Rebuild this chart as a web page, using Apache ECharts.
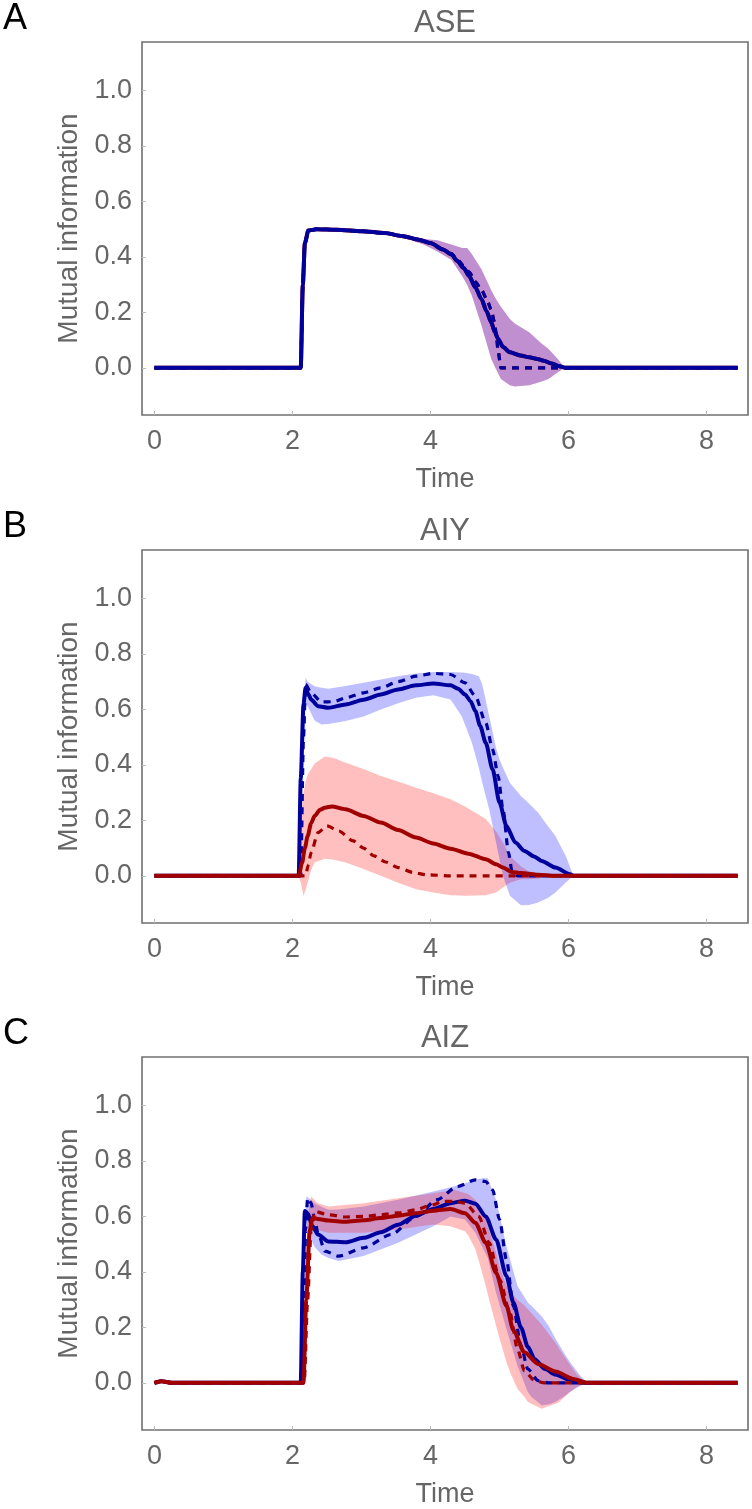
<!DOCTYPE html>
<html>
<head>
<meta charset="utf-8">
<script src="https://cdn.jsdelivr.net/npm/echarts@6/dist/echarts.min.js"></script>
<style>
  html, body { margin: 0; padding: 0; background: #fff; }
  #main { width: 752px; height: 1509px; }
</style>
</head>
<body>
<div id="main"></div>
<script>
// panel titles and axis ticks
var panelNames = ['ASE', 'AIY', 'AIZ'];
var panelLetters = ['A', 'B', 'C'];
var xTicks = [0, 2, 4, 6, 8];
var yTicks = [0, 0.2, 0.4, 0.6, 0.8, 1.0];

// ---- panel A (ASE) ----
var aseBlueSolid = [[0, 0], [2.12, 0], [2.15, 0.3], [2.18, 0.45], [2.23, 0.495], [2.35, 0.5], [2.64, 0.498], [3.0, 0.493], [3.34, 0.486], [3.6, 0.475], [3.83, 0.462], [4.0, 0.45], [4.18, 0.427], [4.3, 0.41], [4.39, 0.385], [4.48, 0.36], [4.56, 0.331], [4.65, 0.29], [4.74, 0.247], [4.81, 0.205], [4.88, 0.164], [4.93, 0.13], [4.98, 0.104], [5.05, 0.075], [5.15, 0.056], [5.3, 0.045], [5.43, 0.038], [5.55, 0.032], [5.64, 0.026], [5.75, 0.016], [5.85, 0.007], [5.96, 0], [8.45, 0]];
var aseBlueDashed = [[0, 0], [2.12, 0], [2.15, 0.3], [2.18, 0.45], [2.23, 0.495], [2.35, 0.5], [2.64, 0.498], [3.0, 0.493], [3.34, 0.486], [3.6, 0.475], [3.83, 0.462], [4.0, 0.45], [4.18, 0.427], [4.3, 0.412], [4.39, 0.39], [4.48, 0.368], [4.56, 0.345], [4.65, 0.31], [4.74, 0.28], [4.81, 0.25], [4.88, 0.21], [4.92, 0.17], [4.95, 0.128], [4.98, 0.06], [5.02, 0], [8.45, 0]];
var aseRedSolid = aseBlueSolid.slice();
var aseRedDashed = aseBlueDashed.slice();
// band rows: [time, lower, upper]
var aseBand = [[3.6, 0.47, 0.475], [3.9, 0.445, 0.465], [4.1, 0.42, 0.46], [4.3, 0.39, 0.445], [4.46, 0.33, 0.432], [4.53, 0.3, 0.432], [4.6, 0.26, 0.41], [4.74, 0.152, 0.355], [4.88, 0.032, 0.28], [4.95, -0.005, 0.247], [5.02, -0.04, 0.22], [5.15, -0.063, 0.176], [5.22, -0.067, 0.16], [5.43, -0.063, 0.128], [5.6, -0.05, 0.09], [5.71, -0.04, 0.068], [5.85, -0.015, 0.03], [5.92, -0.004, 0.008], [6.0, 0, 0]];

// ---- panel B (AIY) ----
var aiyBlueSolid = [[0, 0], [2.09, 0], [2.12, 0.35], [2.16, 0.62], [2.19, 0.678], [2.23, 0.655], [2.27, 0.636], [2.37, 0.612], [2.52, 0.606], [2.77, 0.618], [3.03, 0.635], [3.28, 0.654], [3.53, 0.672], [3.79, 0.687], [4.04, 0.694], [4.29, 0.687], [4.4, 0.675], [4.5, 0.654], [4.58, 0.63], [4.65, 0.594], [4.72, 0.54], [4.8, 0.48], [4.9, 0.384], [5.0, 0.264], [5.1, 0.18], [5.23, 0.12], [5.36, 0.09], [5.5, 0.07], [5.61, 0.054], [5.81, 0.03], [6.02, 0.006], [6.07, 0], [8.45, 0]];
var aiyBlueDashed = [[0, 0], [2.12, 0], [2.16, 0.5], [2.19, 0.69], [2.27, 0.66], [2.42, 0.627], [2.6, 0.628], [2.77, 0.642], [3.03, 0.66], [3.28, 0.678], [3.53, 0.7], [3.79, 0.72], [4.04, 0.73], [4.29, 0.726], [4.5, 0.696], [4.65, 0.648], [4.8, 0.552], [4.9, 0.456], [4.98, 0.36], [5.05, 0.24], [5.13, 0.084], [5.18, 0.018], [5.26, 0], [8.45, 0]];
var aiyRedSolid = [[0, 0], [2.09, 0], [2.14, 0.048], [2.18, 0.1], [2.22, 0.144], [2.27, 0.19], [2.32, 0.216], [2.4, 0.238], [2.47, 0.246], [2.57, 0.25], [2.77, 0.24], [3.03, 0.216], [3.28, 0.192], [3.53, 0.165], [3.79, 0.138], [4.04, 0.117], [4.29, 0.098], [4.55, 0.08], [4.8, 0.06], [4.95, 0.042], [5.05, 0.03], [5.18, 0.014], [5.31, 0.01], [5.56, 0.004], [5.81, 0], [8.45, 0]];
var aiyRedDashed = [[0, 0], [2.19, 0], [2.23, 0.04], [2.27, 0.084], [2.37, 0.156], [2.5, 0.18], [2.67, 0.162], [2.88, 0.126], [3.03, 0.1], [3.18, 0.072], [3.35, 0.05], [3.53, 0.03], [3.75, 0.012], [3.94, 0.004], [4.29, 0], [8.45, 0]];
var aiyBlueBand = [[2.14, 0.3, 0.5], [2.19, 0.62, 0.714], [2.22, 0.612, 0.7], [2.32, 0.56, 0.684], [2.42, 0.546, 0.678], [2.52, 0.548, 0.675], [2.77, 0.558, 0.685], [3.03, 0.575, 0.696], [3.28, 0.6, 0.708], [3.53, 0.622, 0.72], [3.79, 0.642, 0.73], [4.04, 0.651, 0.735], [4.29, 0.636, 0.735], [4.45, 0.576, 0.733], [4.5, 0.545, 0.732], [4.6, 0.48, 0.728], [4.7, 0.39, 0.72], [4.75, 0.336, 0.69], [4.85, 0.24, 0.576], [4.95, 0.12, 0.46], [5.0, 0.06, 0.42], [5.05, 0, 0.39], [5.15, -0.072, 0.336], [5.31, -0.106, 0.288], [5.43, -0.105, 0.26], [5.56, -0.096, 0.228], [5.7, -0.08, 0.18], [5.81, -0.06, 0.144], [5.96, -0.024, 0.072], [6.07, 0, 0]];
var aiyRedBand = [[2.1, -0.01, 0.02], [2.12, -0.024, 0.2], [2.16, -0.072, 0.3], [2.19, -0.05, 0.34], [2.22, -0.024, 0.365], [2.27, 0.02, 0.384], [2.32, 0.048, 0.405], [2.47, 0.062, 0.43], [2.6, 0.058, 0.425], [2.77, 0.048, 0.408], [3.03, 0.025, 0.385], [3.28, 0, 0.36], [3.53, -0.025, 0.34], [3.79, -0.048, 0.318], [4.04, -0.06, 0.298], [4.29, -0.07, 0.276], [4.5, -0.072, 0.25], [4.8, -0.07, 0.205], [4.95, -0.06, 0.16], [5.05, -0.042, 0.12], [5.15, -0.025, 0.072], [5.31, -0.012, 0.035], [5.41, -0.012, 0.018], [5.56, -0.01, 0.008], [5.71, 0, 0]];

// ---- panel C (AIZ) ----
var aizBlueSolid = [[0, 0], [0.1, 0.006], [0.25, 0], [2.12, 0], [2.15, 0.4], [2.18, 0.62], [2.22, 0.612], [2.29, 0.565], [2.37, 0.535], [2.52, 0.51], [2.77, 0.507], [3.03, 0.523], [3.28, 0.543], [3.53, 0.57], [3.79, 0.603], [4.04, 0.627], [4.29, 0.648], [4.5, 0.657], [4.65, 0.646], [4.8, 0.6], [4.95, 0.517], [5.1, 0.385], [5.2, 0.29], [5.31, 0.2], [5.41, 0.13], [5.51, 0.085], [5.66, 0.05], [5.81, 0.03], [6.02, 0.01], [6.2, 0], [8.45, 0]];
var aizBlueDashed = [[0, 0], [0.1, 0.006], [0.25, 0], [2.16, 0], [2.19, 0.55], [2.22, 0.666], [2.27, 0.648], [2.32, 0.59], [2.37, 0.54], [2.47, 0.475], [2.67, 0.457], [3.03, 0.487], [3.43, 0.535], [3.79, 0.6], [4.09, 0.66], [4.39, 0.708], [4.65, 0.732], [4.8, 0.726], [4.9, 0.696], [5.0, 0.589], [5.1, 0.445], [5.2, 0.278], [5.31, 0.134], [5.41, 0.05], [5.56, 0.008], [5.71, 0], [8.45, 0]];
var aizRedSolid = [[0, 0], [0.1, 0.006], [0.25, 0], [2.16, 0], [2.2, 0.3], [2.25, 0.55], [2.29, 0.594], [2.37, 0.591], [2.52, 0.585], [2.77, 0.581], [3.03, 0.586], [3.28, 0.594], [3.53, 0.603], [3.79, 0.612], [4.04, 0.621], [4.29, 0.627], [4.5, 0.612], [4.65, 0.577], [4.8, 0.505], [4.95, 0.397], [5.1, 0.278], [5.2, 0.19], [5.36, 0.11], [5.56, 0.068], [5.81, 0.041], [6.07, 0.014], [6.27, 0], [8.45, 0]];
var aizRedDashed = [[0, 0], [0.1, 0.006], [0.25, 0], [2.17, 0], [2.22, 0.3], [2.27, 0.55], [2.32, 0.618], [2.52, 0.606], [2.77, 0.598], [3.03, 0.6], [3.28, 0.606], [3.53, 0.613], [3.79, 0.624], [4.0, 0.64], [4.19, 0.654], [4.35, 0.655], [4.5, 0.648], [4.7, 0.6], [4.85, 0.505], [5.0, 0.373], [5.15, 0.254], [5.26, 0.122], [5.36, 0.044], [5.51, 0.008], [5.65, 0], [8.45, 0]];
var aizBlueBand = [[2.16, 0.3, 0.5], [2.2, 0.58, 0.672], [2.27, 0.517, 0.66], [2.32, 0.49, 0.648], [2.42, 0.463, 0.635], [2.52, 0.45, 0.624], [2.67, 0.439, 0.625], [3.03, 0.457, 0.636], [3.53, 0.505, 0.66], [4.04, 0.565, 0.69], [4.29, 0.6, 0.705], [4.5, 0.589, 0.72], [4.65, 0.541, 0.733], [4.75, 0.49, 0.738], [4.83, 0.45, 0.738], [4.95, 0.325, 0.66], [5.1, 0.194, 0.493], [5.26, 0.062, 0.349], [5.41, -0.033, 0.29], [5.46, -0.05, 0.278], [5.61, -0.081, 0.24], [5.71, -0.078, 0.206], [5.81, -0.069, 0.16], [5.96, -0.045, 0.098], [6.02, -0.033, 0.075], [6.17, -0.01, 0.026], [6.27, 0, 0]];
var aizRedBand = [[2.18, 0.2, 0.4], [2.22, 0.45, 0.6], [2.27, 0.565, 0.672], [2.37, 0.55, 0.648], [2.52, 0.541, 0.636], [3.03, 0.541, 0.648], [3.53, 0.553, 0.666], [4.04, 0.571, 0.684], [4.29, 0.565, 0.694], [4.34, 0.56, 0.696], [4.5, 0.547, 0.685], [4.55, 0.53, 0.68], [4.65, 0.481, 0.66], [4.7, 0.44, 0.64], [4.8, 0.349, 0.59], [4.85, 0.3, 0.55], [4.95, 0.206, 0.47], [5.0, 0.16, 0.42], [5.1, 0.074, 0.35], [5.15, 0.04, 0.33], [5.26, -0.022, 0.3], [5.36, -0.05, 0.28], [5.41, -0.069, 0.265], [5.61, -0.093, 0.21], [5.81, -0.075, 0.145], [5.86, -0.07, 0.125], [6.02, -0.033, 0.065], [6.12, -0.015, 0.03], [6.22, -0.004, 0.008], [6.27, 0, 0]];

var BLUE = '#00009c';
var RED = '#a00000';
var BLUE_FILL = 'rgba(0,0,255,0.25)';
var RED_FILL = 'rgba(255,0,0,0.25)';
var GREY = '#666666';
var FONT = 'Liberation Sans';

var gridTops = [42, 550, 1057];
var gridH = 373;

function line(i, data, color, dashed) {
    return {
        type: 'line', xAxisIndex: i, yAxisIndex: i,
        data: data, symbol: 'none', smooth: 0.25, smoothMonotone: 'x',
        silent: true, animation: false,
        lineStyle: { color: color, width: dashed ? 3.2 : 4, type: dashed ? [7, 6] : 'solid', cap: 'butt' }
    };
}

// shaded band: upper edge forward, lower edge back, placed with the axis scales
function band(i, rows, fill) {
    return {
        type: 'custom', xAxisIndex: i, yAxisIndex: i, silent: true, animation: false, clip: true,
        data: [[rows[0][0], rows[0][1]]],
        renderItem: function (params, api) {
            var upper = rows.map(function (r) { return api.coord([r[0], r[2]]); });
            var lower = rows.slice().reverse().map(function (r) { return api.coord([r[0], r[1]]); });
            return { type: 'polygon', shape: { points: upper.concat(lower) }, style: { fill: fill } };
        }
    };
}

var series = [
    band(0, aseBand, RED_FILL), band(0, aseBand, BLUE_FILL),
    line(0, aseRedSolid, RED, false), line(0, aseRedDashed, RED, true),
    line(0, aseBlueSolid, BLUE, false), line(0, aseBlueDashed, BLUE, true),
    band(1, aiyRedBand, RED_FILL), band(1, aiyBlueBand, BLUE_FILL),
    line(1, aiyBlueSolid, BLUE, false), line(1, aiyBlueDashed, BLUE, true),
    line(1, aiyRedSolid, RED, false), line(1, aiyRedDashed, RED, true),
    band(2, aizBlueBand, BLUE_FILL), band(2, aizRedBand, RED_FILL),
    line(2, aizBlueSolid, BLUE, false), line(2, aizBlueDashed, BLUE, true),
    line(2, aizRedSolid, RED, false), line(2, aizRedDashed, RED, true)
];

var grids = [], xAxes = [], yAxes = [], texts = [];
gridTops.forEach(function (top, i) {
    grids.push({ left: 142, top: top, width: 606, height: gridH, show: true,
        borderColor: '#707070', borderWidth: 1.6, backgroundColor: '#fff' });
    xAxes.push({ type: 'value', gridIndex: i, min: -0.18, max: 8.6,
        name: 'Time', nameLocation: 'middle', nameGap: 51,
        nameTextStyle: { color: GREY, fontSize: 27, fontFamily: FONT },
        axisLine: { show: false, onZero: false }, splitLine: { show: false },
        axisTick: { inside: true, length: 4, lineStyle: { color: '#bbb' }, customValues: xTicks },
        axisLabel: { color: GREY, fontSize: 27, fontFamily: FONT, margin: 13, customValues: xTicks } });
    yAxes.push({ type: 'value', gridIndex: i, min: -0.17, max: 1.175,
        name: 'Mutual information', nameLocation: 'middle', nameGap: 56,
        nameTextStyle: { color: GREY, fontSize: 28, fontFamily: FONT },
        axisLine: { show: false, onZero: false }, splitLine: { show: false },
        axisTick: { inside: true, length: 4, lineStyle: { color: '#bbb' }, customValues: yTicks },
        axisLabel: { color: GREY, fontSize: 27, fontFamily: FONT, margin: 10, customValues: yTicks,
            formatter: function (v) { return v.toFixed(1); } } });
    texts.push({ type: 'text', x: 445, y: top - 19, silent: true,
        style: { text: panelNames[i], fill: GREY, font: '31px "' + FONT + '"', align: 'center', verticalAlign: 'middle' } });
    texts.push({ type: 'text', x: 3, y: top - 23, silent: true,
        style: { text: panelLetters[i], fill: '#000', font: '36px "' + FONT + '"', align: 'left', verticalAlign: 'middle' } });
});

var myChart = echarts.init(document.getElementById('main'));
var option = {
    backgroundColor: '#fff',
    animation: false,
    grid: grids,
    xAxis: xAxes,
    yAxis: yAxes,
    series: series,
    graphic: texts
};
option && myChart.setOption(option);
</script>
</body>
</html>
